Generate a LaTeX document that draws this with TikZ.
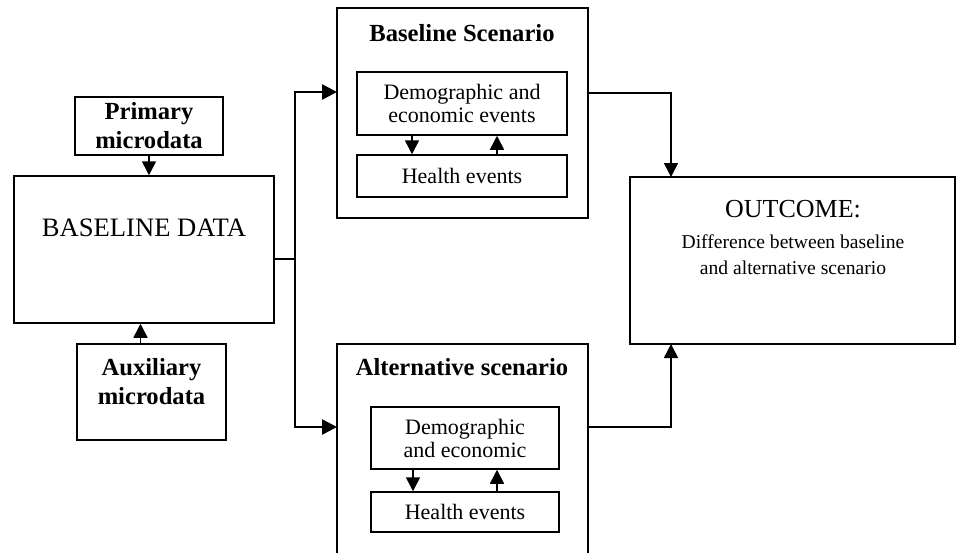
\documentclass[tikz,border=0pt]{standalone}
\usepackage{fontspec}
\setmainfont{Liberation Serif}
\usetikzlibrary{arrows.meta}
\begin{document}
\begin{tikzpicture}[x=0.5pt, y=-0.5pt,
    box/.style={draw, line width=0.75pt, inner sep=0pt},
    title/.style={font=\fontsize{12.3}{14.5}\selectfont\bfseries, align=center},
    inner/.style={box, align=center, font=\fontsize{11}{11.5}\selectfont},
    link/.style={line width=0.8pt, -{Triangle[length=7pt, width=7pt]}},
    feed/.style={line width=1.3pt, -{Triangle[length=7.5pt, width=7.5pt]}}]
    \clip (0, 0) rectangle (957, 552);

    \node (prim) at (149, 126) [box, title, minimum width=74pt, minimum height=29pt] {Primary\\microdata};
    \node (data) at (144, 249.5) [box, minimum width=130pt, minimum height=73.5pt] {};
    \node (aux) at (151.5, 392) [box, minimum width=74.5pt, minimum height=48pt] {};
    \node (base) at (462.5, 113) [box, minimum width=125.5pt, minimum height=105pt] {};
    \node (alt) at (462.5, 462) [box, minimum width=125.5pt, minimum height=118pt] {};
    \node (out) at (792.5, 260.5) [box, minimum width=162.5pt, minimum height=83.5pt] {};

    \node (datatxt) at (144, 228) [font=\fontsize{13.3}{15}\selectfont] {BASELINE DATA};
    \node (auxtxt) at (151.5, 382) [title] {Auxiliary\\microdata};
    \node (basetxt) at (462, 41) [title, anchor=base] {Baseline Scenario};
    \node (alttxt) at (462, 375) [title, anchor=base] {Alternative scenario};
    \node (outtxt) at (793, 217) [anchor=base, font=\fontsize{13}{15}\selectfont] {OUTCOME:};
    \node (outdesc) at (793, 255) [align=center, font=\fontsize{9.8}{13}\selectfont] {Difference between baseline\\and alternative scenario};

    \node (bdem) at (462, 103.5) [inner, minimum width=105pt, minimum height=31.5pt] {Demographic and\\economic events};
    \node (bhlt) at (462, 176) [inner, minimum width=105pt, minimum height=21pt] {Health events};
    \node (adem) at (465, 438) [inner, minimum width=94pt, minimum height=31pt] {Demographic\\and economic};
    \node (ahlt) at (465, 512) [inner, minimum width=94pt, minimum height=20pt] {Health events};

    \coordinate (split) at (295, 259);
    \coordinate (bin) at (337, 92);
    \coordinate (ain) at (337, 427);
    \coordinate (bout) at (588, 93);
    \coordinate (aout) at (588, 427);
    \coordinate (otop) at (671, 177);
    \coordinate (obot) at (671, 344);

    \draw[link] (prim.south) -- (prim.south |- data.north);
    \draw[link] ([xshift=-5.5pt]aux.north) -- ([xshift=-5.5pt]aux.north |- data.south);
    \draw[line width=0.75pt] (data.east |- split) -- (split);
    \draw[feed] (split) |- (bin);
    \draw[feed] (split) |- (ain);
    \draw[link] (bout) -| (otop);
    \draw[link] (aout) -| (obot);

    \draw[link] ([xshift=-25pt]bdem.south) -- ([xshift=-25pt]bhlt.north);
    \draw[link] ([xshift=17.5pt]bhlt.north) -- ([xshift=17.5pt]bdem.south);
    \draw[link] ([xshift=-26pt]adem.south) -- ([xshift=-26pt]ahlt.north);
    \draw[link] ([xshift=16pt]ahlt.north) -- ([xshift=16pt]adem.south);
\end{tikzpicture}
\end{document}
